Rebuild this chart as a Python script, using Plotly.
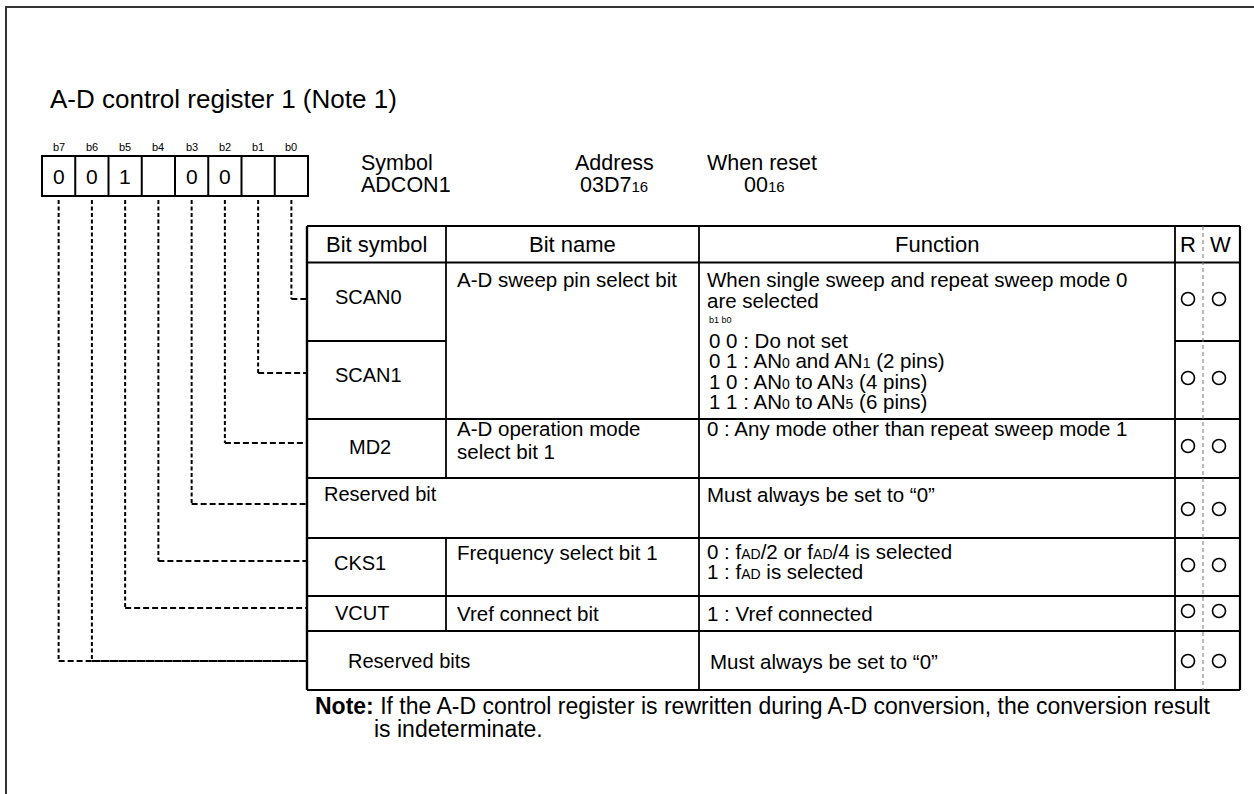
import plotly.graph_objects as go

# ---------------- content ----------------
title_text = "A-D control register 1 (Note 1)"
bit_labels = ["b7", "b6", "b5", "b4", "b3", "b2", "b1", "b0"]
bit_values = ["0", "0", "1", "", "0", "0", "", ""]
bit_rows = [6, 6, 5, 4, 3, 2, 1, 0]          # table row each bit is wired to

SUB = "<span style='font-size:{}px'>{}</span>"
info_labels = ["Symbol", "Address", "When reset"]
info_values = ["ADCON1", "03D7" + SUB.format(15, "16"), "00" + SUB.format(15, "16")]

header_labels = ["Bit symbol", "Bit name", "Function", "R", "W"]

bit_symbols = ["SCAN0", "SCAN1", "MD2", "Reserved bit", "CKS1", "VCUT", "Reserved bits"]
bit_name_blocks = [["A-D sweep pin select bit"], ["A-D operation mode", "select bit 1"],
                   ["Frequency select bit 1"], ["Vref connect bit"]]

s = lambda t: SUB.format(14, t)
function_blocks = [
    ["When single sweep and repeat sweep mode 0", "are selected"],
    ["0 0 : Do not set",
     "0 1 : AN" + s("0") + " and AN" + s("1") + " (2 pins)",
     "1 0 : AN" + s("0") + " to AN" + s("3") + " (4 pins)",
     "1 1 : AN" + s("0") + " to AN" + s("5") + " (6 pins)"],
    ["0 : Any mode other than repeat sweep mode 1"],
    ["Must always be set to \u201c0\u201d"],
    ["0 : f" + s("AD") + "/2 or f" + s("AD") + "/4 is selected",
     "1 : f" + s("AD") + " is selected"],
    ["1 : Vref connected"],
    ["Must always be set to \u201c0\u201d"],
]
bit_pair_label = "b1 b0"
read_marks = [1, 1, 1, 1, 1, 1, 1]
write_marks = [1, 1, 1, 1, 1, 1, 1]
note_lines = ["<b>Note:</b> If the A-D control register is rewritten during A-D conversion, the conversion result",
              "is indeterminate."]

# ---------------- geometry (pixels) ----------------
W, H = 1254, 794
FONT = "Liberation Sans, Arial, sans-serif"
frame_x0, frame_y0 = 6, 7
cell_x0, cell_w, cell_y0, cell_y1 = 42, 33.25, 156, 196
bit_label_y, bit_value_y = 147, 176
info_pos = [(359, 163, 185), (573, 163, 185), (705, 163, 185)]
info_val_x = [359, 578, 742]

tx = [307, 446, 699, 1175, 1203, 1240]        # table column boundaries
ty = [226, 262.5, 341, 419, 478, 538, 596, 631, 690]
connector_y = [299, 373, 443, 504, 561, 608, 661]
header_x = [376.5, 572.5, 937, 1188, 1220]
header_y = 244

symbol_pos = [(368, 297, "center"), (368, 375, "center"), (370, 447, "center"),
              (322, 494, "left"), (360, 563, "center"), (362, 613, "center"),
              (346, 661, "left")]
# (x, y of first line, line spacing)
name_pos = [(455, 279, 23), (455, 428, 23), (455, 552, 23), (455, 613, 23)]
func_pos = [(705, 279, 21), (707, 340, 20.4), (705, 428, 21), (705, 494, 21),
            (705, 551, 20), (705, 613, 21), (708, 661, 21)]
pair_pos = (707, 320)
mark_y = [299, 378, 446, 509, 565, 611, 661]
mark_x = (1188, 1219)
note_pos = (313, 706, 372, 23)     # x line1, y line1, x line2, line spacing
BODY = 20.5

fig = go.Figure()


def line(x0, y0, x1, y1, w=2.0, color="black", dash=None):
    ln = dict(color=color, width=w)
    if dash:
        ln["dash"] = dash
    fig.add_shape(type="line", xref="x", yref="y", x0=x0, y0=y0, x1=x1, y1=y1, line=ln)


def text(x, y, t, size=20, anchor="left"):
    fig.add_annotation(x=x, y=y, xref="x", yref="y", text=t,
                       showarrow=False, xanchor=anchor, yanchor="middle",
                       font=dict(family=FONT, size=size, color="black"))


def block(x, y_first, lines, spacing, size=BODY):
    # one annotation per block; base font sets the line pitch, spans set glyph size
    n = len(lines)
    if n == 1:
        text(x, y_first, lines[0], size=size)
        return
    body = "<br>".join("<span style='font-size:%spx'>%s</span>" % (size, ln) for ln in lines)
    fig.add_annotation(x=x, y=y_first + spacing * (n - 1) / 2.0, xref="x", yref="y", text=body,
                       showarrow=False, xanchor="left", yanchor="middle", align="left",
                       font=dict(family=FONT, size=spacing / 1.3, color="black"))


# outer frame
fig.add_shape(type="rect", xref="x", yref="y", x0=frame_x0, y0=frame_y0, x1=W + 10, y1=H + 10,
              line=dict(color="#333333", width=2))

# title
text(48, 99, title_text, size=26)

# register cells
for i, (lab, val) in enumerate(zip(bit_labels, bit_values)):
    cx = cell_x0 + cell_w * (i + 0.5)
    text(cx, bit_label_y, lab, size=11, anchor="center")
    if val:
        text(cx, bit_value_y, val, size=21, anchor="center")
fig.add_shape(type="rect", xref="x", yref="y", x0=cell_x0, y0=cell_y0,
              x1=cell_x0 + 8 * cell_w, y1=cell_y1, line=dict(color="black", width=2))
for i in range(1, 8):
    xx = cell_x0 + cell_w * i
    line(xx, cell_y0, xx, cell_y1, w=2)

# connectors from bits to rows
for i, r in enumerate(bit_rows):
    cx = cell_x0 + cell_w * (i + 0.5)
    yy = connector_y[r]
    line(cx, cell_y1 + 4, cx, yy, w=2, dash="4px,2.5px")
    line(cx, yy, tx[0], yy, w=1.8, dash="6px,3px")

# info block
for (x, y1, y2), lab, val, vx in zip(info_pos, info_labels, info_values, info_val_x):
    text(x, y1, lab, size=21.5)
    text(vx, y2, val, size=21.5)

# table grid
x_left, x_b, x_f, x_r, x_rw, x_right = tx
for k, y in enumerate(ty):
    if k == 2:
        line(x_left, y, x_b, y, w=2)
        line(x_r, y, x_right, y, w=2)
    else:
        line(x_left, y, x_right, y, w=2.2 if k in (0, len(ty) - 1) else 1.8)
line(x_left, ty[0], x_left, ty[-1], w=2.4)
line(x_right, ty[0], x_right, ty[-1], w=2.2)
line(x_f, ty[0], x_f, ty[-1], w=1.8)
line(x_r, ty[0], x_r, ty[-1], w=1.8)
line(x_b, ty[0], x_b, ty[4], w=1.8)
line(x_b, ty[5], x_b, ty[7], w=1.8)
line(x_rw, ty[0], x_rw, ty[-1], w=1, color="#777777", dash="4px,3px")

# header
for hx, hl in zip(header_x, header_labels):
    text(hx, header_y, hl, size=22, anchor="center")

# rows
for (x, y, a), sym in zip(symbol_pos, bit_symbols):
    text(x, y, sym, size=20, anchor=a)
for (x, y, sp), nm in zip(name_pos, bit_name_blocks):
    block(x, y, nm, sp)
for (x, y, sp), fl in zip(func_pos, function_blocks):
    block(x, y, fl, sp)
text(pair_pos[0], pair_pos[1], bit_pair_label, size=9)

# R / W marks
fig.add_trace(go.Scatter(x=[mark_x[0] for r in read_marks if r], y=[y for y, r in zip(mark_y, read_marks) if r],
                         mode="markers", hoverinfo="skip",
                         marker=dict(symbol="circle-open", size=13, color="black", line=dict(width=1.6))))
fig.add_trace(go.Scatter(x=[mark_x[1] for r in write_marks if r], y=[y for y, r in zip(mark_y, write_marks) if r],
                         mode="markers", hoverinfo="skip",
                         marker=dict(symbol="circle-open", size=13, color="black", line=dict(width=1.6))))

# note (second line indented under the text after "Note:")
text(note_pos[0], note_pos[1], note_lines[0], size=23)
text(note_pos[2], note_pos[1] + note_pos[3], note_lines[1], size=23)

fig.update_layout(
    width=W, height=H, margin=dict(l=0, r=0, t=0, b=0),
    paper_bgcolor="white", plot_bgcolor="white", showlegend=False,
    xaxis=dict(range=[0, W], visible=False, fixedrange=True),
    yaxis=dict(range=[H, 0], visible=False, fixedrange=True),
)
fig.write_html("out.html", config={"displayModeBar": False},
               post_script="document.body.style.margin='0';document.body.style.overflow='hidden';")
